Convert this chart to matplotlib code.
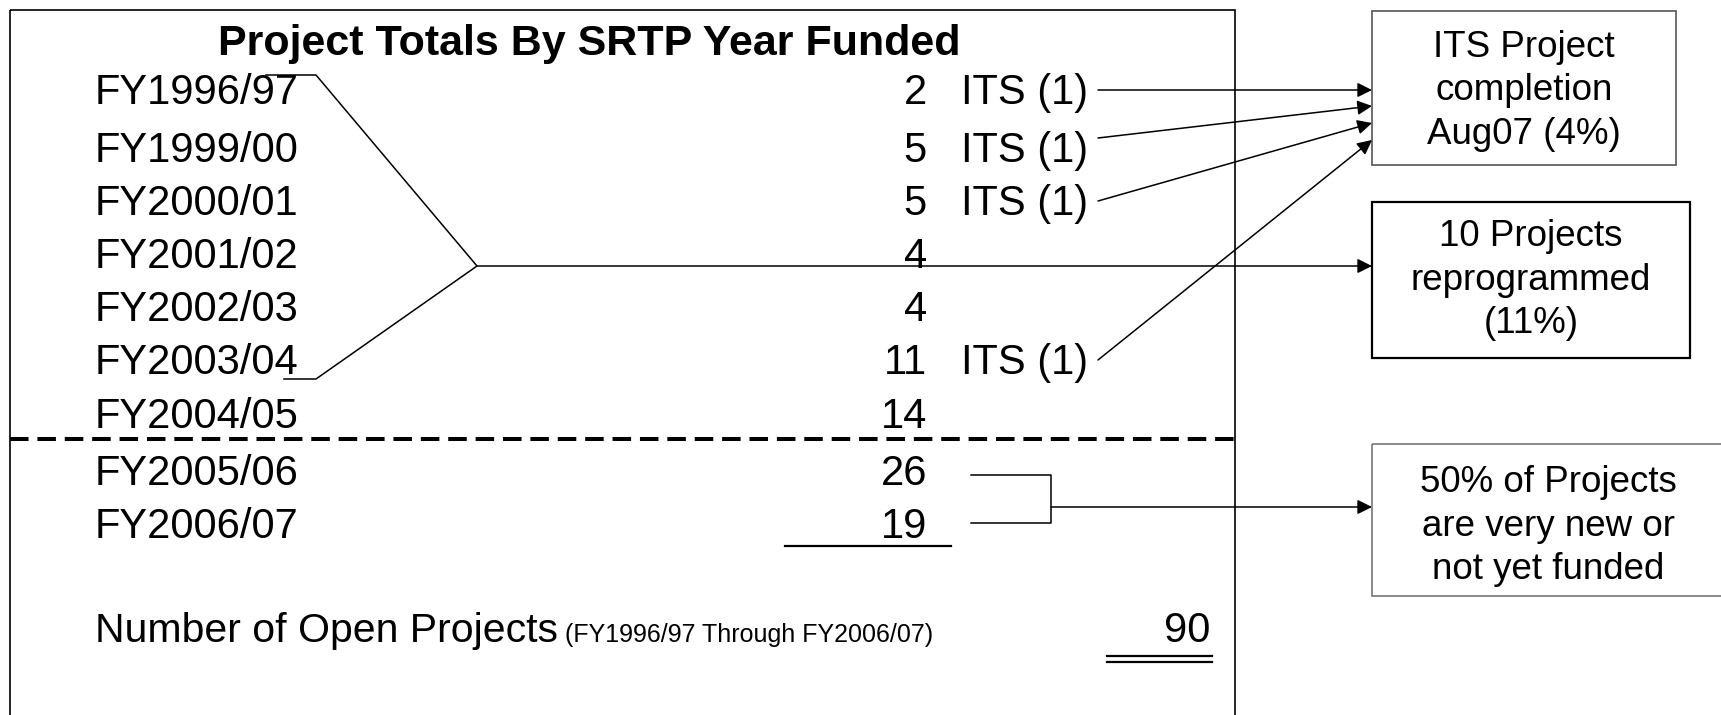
#!/usr/bin/env python3
import matplotlib.pyplot as plt
from matplotlib.patches import Rectangle

plt.rcParams['font.family'] = ['Liberation Sans', 'DejaVu Sans']

# Data
years = ['FY1996/97', 'FY1999/00', 'FY2000/01', 'FY2001/02', 'FY2002/03',
         'FY2003/04', 'FY2004/05', 'FY2005/06', 'FY2006/07']
counts = [2, 5, 5, 4, 4, 11, 14, 26, 19]
its_counts = [1, 1, 1, 0, 0, 1, 0, 0, 0]
title = 'Project Totals By SRTP Year Funded'
total_label = 'Number of Open Projects'
total_note = '(FY1996/97 Through FY2006/07)'
box_texts = ['ITS Project\ncompletion\nAug07 (4%)',
             '10 Projects\nreprogrammed\n(11%)',
             '50% of Projects\nare very new or\nnot yet funded']

# Canvas in pixel coordinates
fig = plt.figure(figsize=(17.21, 7.15), dpi=100)
ax = fig.add_axes([0, 0, 1, 1])
ax.set_xlim(0, 1721)
ax.set_ylim(715, 0)
ax.axis('off')

# Main frame (bottom edge runs off the canvas)
ax.add_patch(Rectangle((10, 10), 1225, 715, fill=False, ec='black', lw=1.2))
ax.text(589, 44, title, fontsize=31, fontweight='bold', ha='center', va='center')

# Rows
baselines = [104, 162, 215, 268, 321, 374, 428, 485, 538]
for yr, n, its, yb in zip(years, counts, its_counts, baselines):
    ax.text(95, yb, yr, fontsize=30, ha='left', va='baseline')
    ax.text(927, yb, str(n), fontsize=30, ha='right', va='baseline')
    if its:
        ax.text(961, yb, 'ITS (%d)' % its, fontsize=30, ha='left', va='baseline')

# dashed separator between FY2004/05 and FY2005/06
ax.plot([10, 1235], [439, 439], color='black', lw=2.9, ls=(0, (4.6, 2.2)),
        dash_capstyle='butt')

# subtotal underline
ax.plot([785, 951], [546, 546], color='black', lw=1.6)

# total
ax.text(95, 642, total_label, fontsize=29.5, ha='left', va='baseline')
ax.text(565, 642, total_note, fontsize=18, ha='left', va='baseline')
ax.text(1210, 642, str(sum(counts)), fontsize=30, ha='right', va='baseline')
ax.plot([1107, 1212], [656, 656], color='black', lw=1.6)
ax.plot([1107, 1212], [662, 662], color='black', lw=1.6)

# Right boxes: x, y, w, h, text centre x, text shift, edge colour, line width
boxes = [(1372, 11, 304, 154, 1524, 3, '#555555', 1.2),
         (1372, 202, 318, 156, 1531, 0, 'black', 1.6),
         (1372, 444, 360, 152, 1548, 6, '#777777', 1.2)]
for (x, y, w, h, tx, dy, ec, lw), txt in zip(boxes, box_texts):
    ax.add_patch(Rectangle((x, y), w, h, fill=False, ec=ec, lw=lw))
    ax.text(tx, y + h / 2 + dy, txt, fontsize=26.5,
            ha='center', va='center', linespacing=1.31)

arrow = dict(arrowstyle='-|>', color='black', lw=1.1, mutation_scale=22,
             shrinkA=0, shrinkB=0)

# ITS arrows -> box 1
its_start_y = [90, 138, 201, 360]
its_tip_y = [90, 106, 123, 140]
for sy, ty in zip(its_start_y, its_tip_y):
    ax.annotate('', xy=(1372, ty), xytext=(1098, sy), arrowprops=arrow)

# reprogrammed bracket -> box 2
ax.plot([266, 316, 477, 316, 284], [75, 75, 266, 379, 379], color='black', lw=1.1)
ax.annotate('', xy=(1372, 266), xytext=(477, 266), arrowprops=arrow)

# new projects bracket -> box 3
ax.plot([971, 1051, 1051, 971], [475, 475, 523, 523], color='black', lw=1.1)
ax.annotate('', xy=(1372, 507), xytext=(1051, 507), arrowprops=arrow)

plt.savefig('out.png', dpi=100)
